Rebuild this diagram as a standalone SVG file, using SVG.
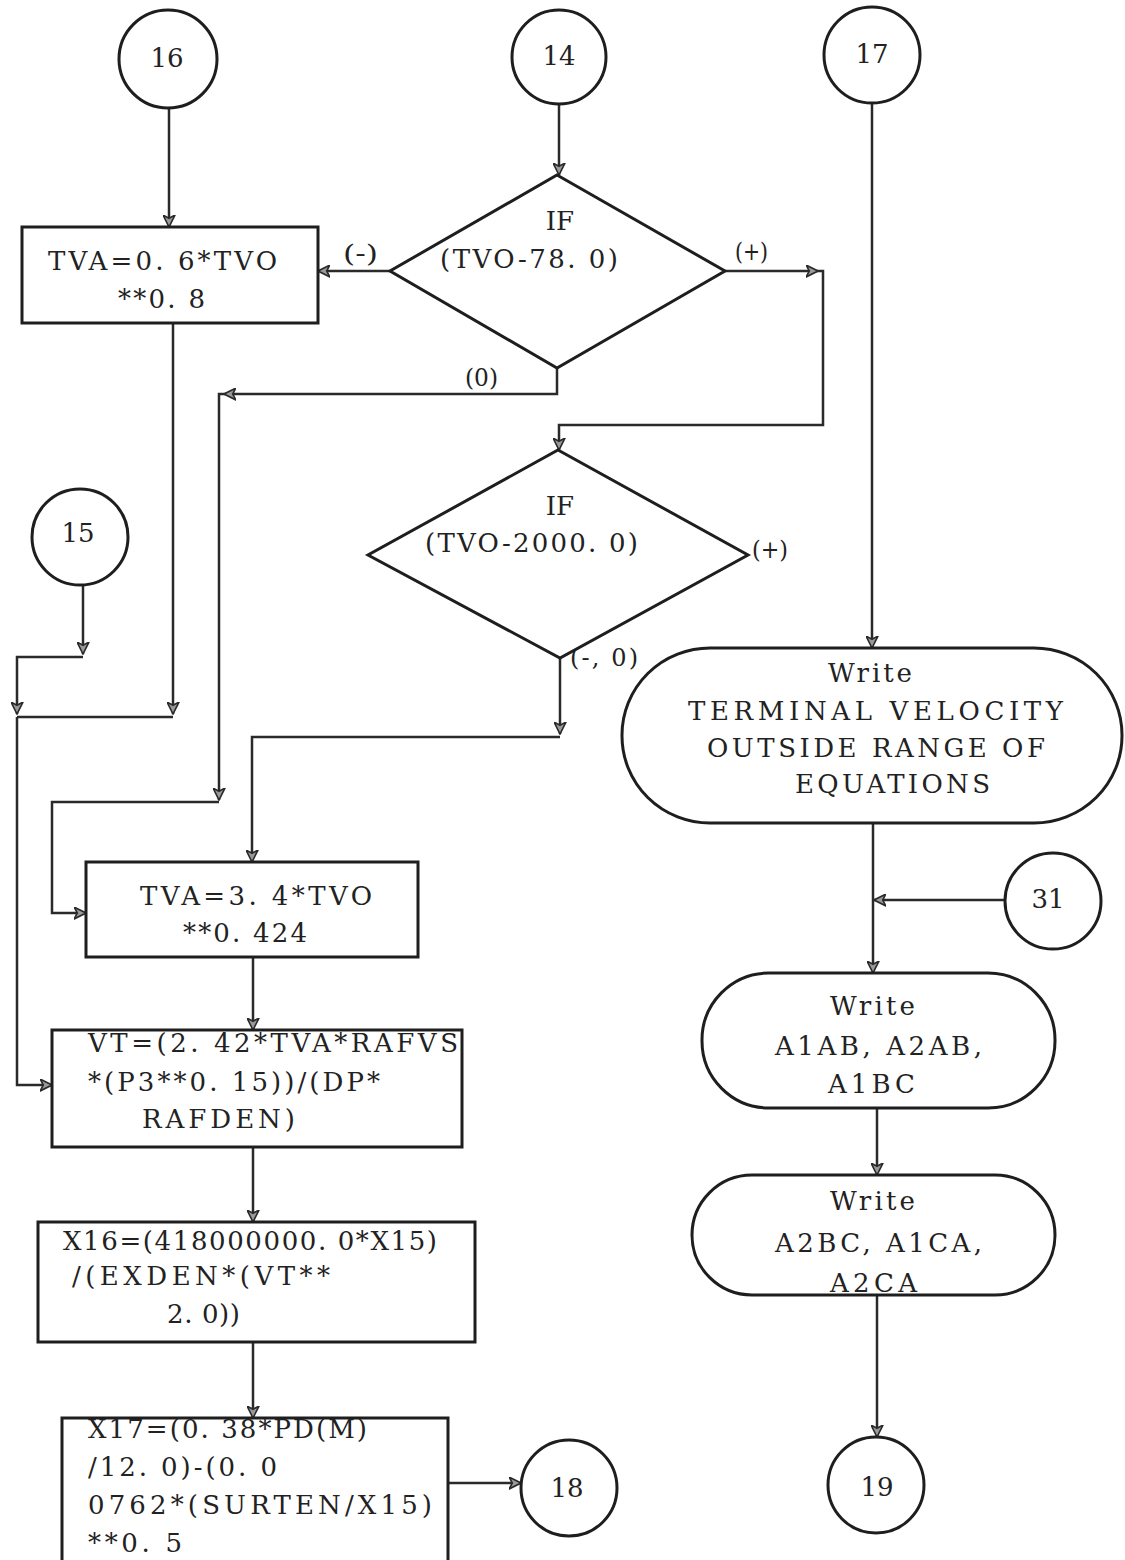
<svg xmlns="http://www.w3.org/2000/svg" width="1125" height="1560" viewBox="0 0 1125 1560">
<defs>
<style>
.shape{fill:none;stroke:#1e1e1e;stroke-width:3}
.conn{fill:none;stroke:#2a2a2a;stroke-width:2.5}
text{font-family:"DejaVu Serif","Liberation Serif",serif;font-size:26px;fill:#222222}
.c{text-anchor:middle}
.lbl{font-size:24px}
</style>
<marker id="ah" viewBox="0 0 12 12" refX="11" refY="6" markerWidth="13" markerHeight="13" markerUnits="userSpaceOnUse" orient="auto">
<path d="M0,0.5 L11,6 L0,11.5 L3,6 z" fill="#9a9a9a" stroke="#2a2a2a" stroke-width="1.5"/>
</marker>
</defs>
<rect width="1125" height="1560" fill="#ffffff"/>

<g id="connectors">
<path class="conn" d="M169,108 V227" marker-end="url(#ah)"/>
<path class="conn" d="M559,104 V175" marker-end="url(#ah)"/>
<path class="conn" d="M390,271 H318" marker-end="url(#ah)"/>
<path class="conn" d="M725,271 H818" marker-end="url(#ah)"/>
<path class="conn" d="M818,271 H823 V425 H559 V450" marker-end="url(#ah)"/>
<path class="conn" d="M557,368 V394 H224" marker-end="url(#ah)"/>
<path class="conn" d="M224,394 H219 V800" marker-end="url(#ah)"/>
<path class="conn" d="M219,802 H52 V913 H86" marker-end="url(#ah)"/>
<path class="conn" d="M560,658 V734" marker-end="url(#ah)"/>
<path class="conn" d="M560,737 H252 V862" marker-end="url(#ah)"/>
<path class="conn" d="M173,323 V714" marker-end="url(#ah)"/>
<path class="conn" d="M173,717 H17"/>
<path class="conn" d="M83,585 V654" marker-end="url(#ah)"/>
<path class="conn" d="M83,657 H17 V714" marker-end="url(#ah)"/>
<path class="conn" d="M17,717 V1085 H52" marker-end="url(#ah)"/>
<path class="conn" d="M253,957 V1030" marker-end="url(#ah)"/>
<path class="conn" d="M253,1147 V1222" marker-end="url(#ah)"/>
<path class="conn" d="M253,1342 V1418" marker-end="url(#ah)"/>
<path class="conn" d="M448,1483 H521" marker-end="url(#ah)"/>
<path class="conn" d="M872,103 V648" marker-end="url(#ah)"/>
<path class="conn" d="M873,823 V973" marker-end="url(#ah)"/>
<path class="conn" d="M1005,900 H874" marker-end="url(#ah)"/>
<path class="conn" d="M877,1108 V1175" marker-end="url(#ah)"/>
<path class="conn" d="M877,1295 V1437" marker-end="url(#ah)"/>
<text class="lbl" x="343" y="262" textLength="35" lengthAdjust="spacingAndGlyphs">(-)</text>
<text class="lbl" x="735" y="260" textLength="33" lengthAdjust="spacingAndGlyphs">(+)</text>
<text class="lbl" x="465" y="386" textLength="33" lengthAdjust="spacingAndGlyphs">(0)</text>
<text class="lbl" x="752" y="558" textLength="36" lengthAdjust="spacingAndGlyphs">(+)</text>
<text class="lbl" x="570" y="666" textLength="68" lengthAdjust="spacing">(-, 0)</text>
</g>

<g id="n16"><circle class="shape" cx="168" cy="59" r="49"/><text class="c" x="167" y="67">16</text></g>
<g id="n14"><circle class="shape" cx="559" cy="57" r="47"/><text class="c" x="559" y="65">14</text></g>
<g id="n17"><circle class="shape" cx="872" cy="55" r="48"/><text class="c" x="872" y="63">17</text></g>
<g id="n15"><circle class="shape" cx="80" cy="537" r="48"/><text class="c" x="78" y="542">15</text></g>
<g id="n31"><circle class="shape" cx="1053" cy="901" r="48"/><text class="c" x="1048" y="908">31</text></g>
<g id="n18"><circle class="shape" cx="569" cy="1488" r="48"/><text class="c" x="567" y="1497">18</text></g>
<g id="n19"><circle class="shape" cx="876" cy="1485" r="48"/><text class="c" x="877" y="1496">19</text></g>

<g id="box1">
<rect class="shape" x="22" y="227" width="296" height="96"/>
<text x="48" y="270" textLength="229" lengthAdjust="spacing">TVA=0. 6*TVO</text>
<text x="118" y="308" textLength="87" lengthAdjust="spacing">**0. 8</text>
</g>

<g id="if1">
<polygon class="shape" points="557,175 725,271 557,368 390,271"/>
<text class="c" x="560" y="230">IF</text>
<text x="440" y="268" textLength="178" lengthAdjust="spacing">(TVO-78. 0)</text>
</g>

<g id="if2">
<polygon class="shape" points="558,450 748,555 560,658 368,555"/>
<text class="c" x="560" y="515">IF</text>
<text x="425" y="552" textLength="213" lengthAdjust="spacing">(TVO-2000. 0)</text>
</g>

<g id="box3">
<rect class="shape" x="86" y="862" width="332" height="95"/>
<text x="140" y="905" textLength="232" lengthAdjust="spacing">TVA=3. 4*TVO</text>
<text x="183" y="942" textLength="124" lengthAdjust="spacing">**0. 424</text>
</g>

<g id="box4">
<rect class="shape" x="52" y="1030" width="410" height="117"/>
<text x="88" y="1052" textLength="370" lengthAdjust="spacing">VT=(2. 42*TVA*RAFVS</text>
<text x="88" y="1091" textLength="292" lengthAdjust="spacing">*(P3**0. 15))/(DP*</text>
<text x="142" y="1128" textLength="153" lengthAdjust="spacing">RAFDEN)</text>
</g>

<g id="box5">
<rect class="shape" x="38" y="1222" width="437" height="120"/>
<text x="63" y="1250" textLength="374" lengthAdjust="spacing">X16=(418000000. 0*X15)</text>
<text x="72" y="1285" textLength="258" lengthAdjust="spacing">/(EXDEN*(VT**</text>
<text x="167" y="1323" textLength="73" lengthAdjust="spacing">2. 0))</text>
</g>

<g id="box6">
<path class="shape" d="M62,1562 V1418 H448 V1562"/>
<text x="88" y="1438" textLength="279" lengthAdjust="spacing">X17=(0. 38*PD(M)</text>
<text x="88" y="1476" textLength="189" lengthAdjust="spacing">/12. 0)-(0. 0</text>
<text x="88" y="1514" textLength="344" lengthAdjust="spacing">0762*(SURTEN/X15)</text>
<text x="88" y="1552" textLength="94" lengthAdjust="spacing">**0. 5</text>
</g>

<g id="write1">
<rect class="shape" x="622" y="648" width="500" height="175" rx="88" ry="87"/>
<text x="828" y="682" textLength="84" lengthAdjust="spacing">Write</text>
<text x="688" y="720" textLength="375" lengthAdjust="spacing">TERMINAL VELOCITY</text>
<text x="707" y="757" textLength="338" lengthAdjust="spacing">OUTSIDE RANGE OF</text>
<text x="795" y="793" textLength="195" lengthAdjust="spacing">EQUATIONS</text>
</g>

<g id="write2">
<rect class="shape" x="702" y="973" width="353" height="135" rx="67" ry="67"/>
<text x="830" y="1015" textLength="85" lengthAdjust="spacing">Write</text>
<text x="775" y="1055" textLength="207" lengthAdjust="spacing">A1AB, A2AB,</text>
<text x="828" y="1093" textLength="87" lengthAdjust="spacing">A1BC</text>
</g>

<g id="write3">
<rect class="shape" x="692" y="1175" width="363" height="120" rx="60" ry="60"/>
<text x="830" y="1210" textLength="85" lengthAdjust="spacing">Write</text>
<text x="775" y="1252" textLength="207" lengthAdjust="spacing">A2BC, A1CA,</text>
<text x="830" y="1292" textLength="87" lengthAdjust="spacing">A2CA</text>
</g>
</svg>
